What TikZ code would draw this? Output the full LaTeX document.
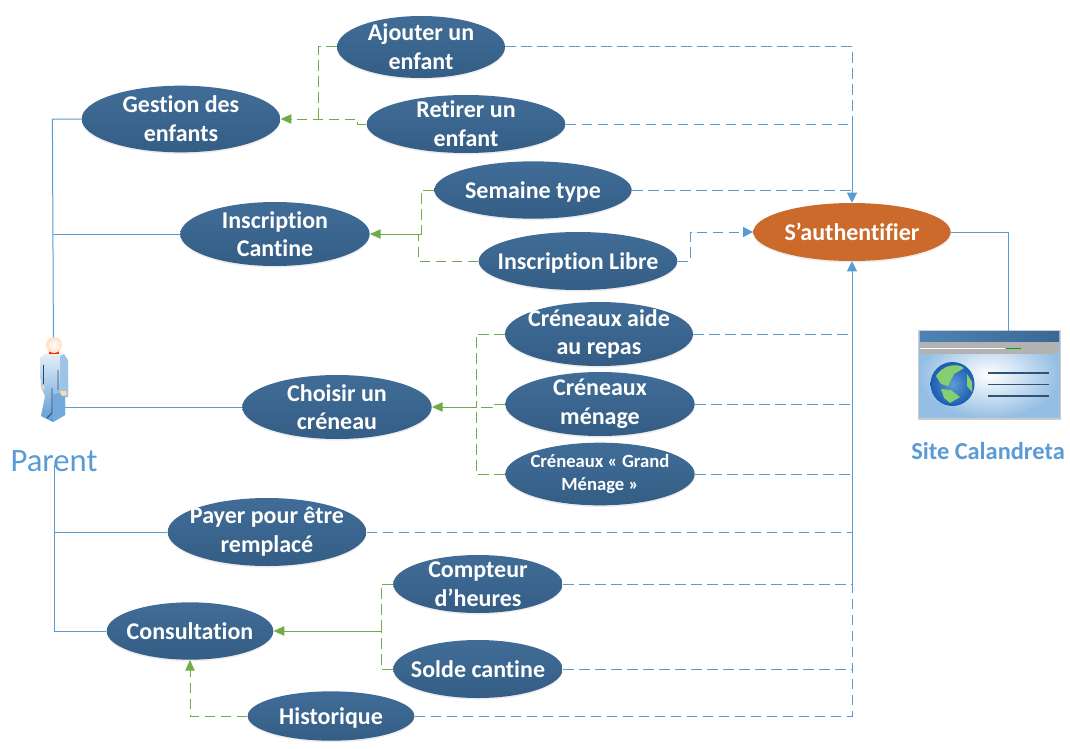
\documentclass[tikz,border=0pt]{standalone}
\usepackage{fontspec}
\setmainfont[Ligatures=NoCommon]{Carlito}
\usetikzlibrary{shapes.geometric}
\usetikzlibrary{arrows.meta}
\usetikzlibrary{shadows}

\definecolor{ucblue}{HTML}{3A6894}
\definecolor{ucline}{HTML}{5B9BD5}
\definecolor{ucgreen}{HTML}{70AD47}
\definecolor{ucorange}{HTML}{CC6A2B}
\definecolor{ocean}{HTML}{1B5CB0}
\definecolor{land}{HTML}{86CE72}

\tikzset{
  usecase/.style={ellipse,inner xsep=-30pt,inner ysep=-20pt,align=center,text=white,
    font=\fontsize{18}{21.5}\selectfont\bfseries,
    top color=ucblue!97!white,bottom color=ucblue!90!black,
    drop shadow={shadow xshift=0pt,shadow yshift=-1.2pt,opacity=.15}},
  actorline/.style={draw=ucline,line width=.75pt},
  authline/.style={draw=ucline,line width=.75pt,dash pattern=on 8pt off 4pt},
  authtip/.style={-{Triangle[length=7.5pt,width=7.5pt]}},
  extsolid/.style={draw=ucgreen,line width=.75pt},
  extline/.style={draw=ucgreen,line width=.75pt,dash pattern=on 8pt off 4pt},
  exttip/.style={-{Triangle[length=8pt,width=7pt]}}
}

\begin{document}
\begin{tikzpicture}[x=.75pt,y=-.75pt]
\useasboundingbox (0,0) rectangle (1070,749);

% use cases
\node[usecase,minimum width=126pt,minimum height=46.5pt] (ajouter) at (421,47) {Ajouter un\\enfant};
\node[usecase,minimum width=149pt,minimum height=43.5pt] (retirer) at (466,124) {Retirer un\\enfant};
\node[usecase,minimum width=149pt,minimum height=50pt] (gestion) at (181,119) {Gestion des\\enfants};
\node[usecase,minimum width=148pt,minimum height=43pt,text depth=0pt] (semaine) at (533,190) {Semaine type};
\node[usecase,minimum width=149pt,minimum height=43.5pt,text depth=0pt] (libre) at (578,261) {Inscription Libre};
\node[usecase,minimum width=142pt,minimum height=48pt] (cantine) at (275,234) {Inscription\\Cantine};
\node[usecase,minimum width=141pt,minimum height=48pt] (aide) at (599,334) {Créneaux aide\\au repas};
\node[usecase,minimum width=142pt,minimum height=48pt] (menage) at (600,404) {Créneaux\\ménage};
\node[usecase,minimum width=142pt,minimum height=47pt,font=\fontsize{14}{17}\selectfont\bfseries] (grand) at (600,474) {Créneaux « Grand\\Ménage »};
\node[usecase,minimum width=142pt,minimum height=48pt] (choisir) at (337,407) {Choisir un\\créneau};
\node[usecase,minimum width=149pt,minimum height=51pt] (payer) at (267,532) {Payer pour être\\remplacé};
\node[usecase,minimum width=127pt,minimum height=43.5pt] (compteur) at (478,584) {Compteur\\d’heures};
\node[usecase,minimum width=127pt,minimum height=43.5pt] (solde) at (478,669) {Solde cantine};
\node[usecase,minimum width=125pt,minimum height=43pt] (consult) at (190,631) {Consultation};
\node[usecase,minimum width=125pt,minimum height=37pt,text depth=0pt] (histo) at (331,716) {Historique};
\node[usecase,minimum width=148pt,minimum height=43.5pt,top color=ucorange,bottom color=ucorange] (auth) at (852,232) {S’authentifier};

% actor
\coordinate (actorhead) at (53.4,337);
\coordinate (actorside) at (65,407);
\coordinate (parentfoot) at (54,465);
\shade[top color=ucline!15,bottom color=ucline] (40,358) -- (46,353) -- (62,353) -- (68,360) -- (68,397) -- (65,397) -- (65,415) -- (53,422) -- (41,416) -- (45,396) -- (41,387) -- cycle;
\fill[ucline!60] (60,356) -- (64,354) -- (68,360) -- (68,393) -- (60,390) -- cycle;
\fill[ucline!85] (58,393) -- (65,397) -- (65,415) -- (53,422) -- (53,395) -- cycle;
\draw[ucblue!70!black,line width=.6pt] (43.5,365) -- (43.5,384) (58,370) -- (58,390) (52,388) -- (52,413) -- (47,418);
\fill[orange!30] (41,386) -- (44.5,391) -- (44,385) -- cycle (60,391) -- (66,391) -- (67,395) -- (62,396) -- cycle;
\fill[red!70!orange] (49,350) rectangle (59,354);
\shade[inner color=white,outer color=orange!25] (54,345) circle (6pt);
\node[text=ucline,font=\fontsize{24.5}{26}\selectfont,inner sep=0pt] (parent) at (54,461) {Parent};

% website
\node[draw=gray!40,line width=.8pt,minimum width=106pt,minimum height=66pt,inner sep=0pt,outer sep=0pt,
  inner color=white,outer color=ucline!65] (site) at (989.5,375) {};
\fill[left color=ucline!85!black,right color=ucblue] (920,331) rectangle (1059,342);
\fill[gray!60] (920,342) rectangle (1059,354);
\draw[white,line width=.7pt] (920,348) -- (1005,348);
\draw[green!65!black,line width=.7pt] (1006,348) -- (1021,348);
\shade[inner color=ucline,outer color=ocean] (952.5,384) circle (16.5pt);
\fill[land] (936,376) .. controls (942,366) and (956,362) .. (964,368) -- (954,374) -- (948,386) -- (941,384) -- cycle
  (941,389) -- (951,390) -- (960,397) -- (950,403) -- (944,398) -- cycle
  (967,374) -- (972,382) -- (972,392) -- (967,386) -- cycle;
\draw[ucblue!80!black,line width=1.1pt] (988,373) -- (1049,373) (988,396) -- (1049,396);
\draw[ucblue!80!black,line width=.7pt] (988,384) -- (1049,384);
\node[text=ucline,font=\fontsize{18.3}{20}\selectfont\bfseries,inner sep=0pt] (sitelabel) at (988,451) {Site Calandreta};

% actor links
\draw[actorline] (gestion.west) -- ++(-29,0) -- (actorhead);
\draw[actorline] (cantine.west) -- (53.4,234);
\draw[actorline] (choisir.west) -- (actorside);
\draw[actorline] (parentfoot) |- (consult.west);
\draw[actorline] (payer.west) -- (54,532);
\draw[actorline] (auth.east) -| (1008,331);

% authentication links
\coordinate (authtop) at (852,124);
\coordinate (authmid) at (852,590);
\coordinate (authbot) at (852,716);
\draw[authline] (ajouter.east) -| (authtop);
\draw[actorline,authtip] (authtop) -- (auth.north);
\draw[authline] (retirer.east) -- (authtop);
\draw[authline] (semaine.east) -- (852,190);
\draw[authline,authtip] (libre.east) -- ++(13,0) |- (auth.west);
\draw[actorline,authtip] (authmid) -- (auth.south);
\draw[authline] (aide.east) -- (aide.east -| auth);
\draw[authline] (menage.east) -- (menage.east -| auth);
\draw[authline] (grand.east) -- (grand.east -| auth);
\draw[authline] (payer.east) -- (payer.east -| auth);
\draw[authline] (compteur.east) -- (compteur.east -| auth);
\draw[authline] (solde.east) -- (solde.east -| auth);
\draw[authline] (histo.east) -- (authbot) -- (authmid);

% include links
\coordinate (gjoin) at (318,119);
\coordinate (cjoin) at (418,234);
\coordinate (rjoin) at (476,407);
\coordinate (ojoin) at (381,631);
\draw[extline] (ajouter.west) -| (gjoin);
\draw[extline,exttip] (retirer.west) -- ++(-9,0) |- (gestion.east);
\draw[extline] (semaine.west) -- ++(-13,0) |- (cjoin);
\draw[extline] (libre.west) -| (cjoin);
\draw[extsolid,exttip] (cjoin) -- (cantine.east);
\draw[extline] (aide.west) -| (rjoin);
\draw[extline] (grand.west) -| (rjoin);
\draw[extline] (menage.west) -- ++(-13,0) |- (rjoin);
\draw[extsolid,exttip] (rjoin) -- (choisir.east);
\draw[extline] (compteur.west) -| (ojoin);
\draw[extline] (solde.west) -| (ojoin);
\draw[extsolid,exttip] (ojoin) -- (consult.east);
\draw[extline,exttip] (histo.west) -| (consult.south);
\end{tikzpicture}
\end{document}
